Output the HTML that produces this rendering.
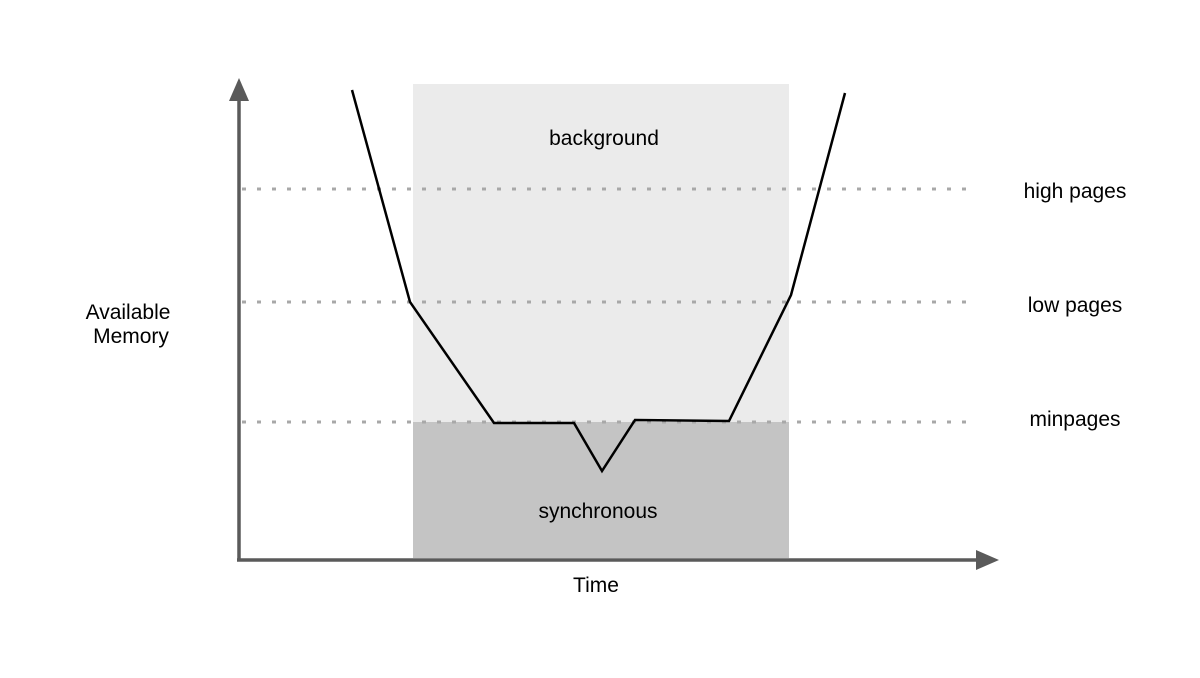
<!DOCTYPE html>
<html><head><style>body{margin:0;background:#fff}</style></head><body>
<svg width="1200" height="673" viewBox="0 0 1200 673" xmlns="http://www.w3.org/2000/svg" font-family="Liberation Sans, sans-serif" font-size="21" fill="#000">
<rect x="413" y="84" width="376" height="338" fill="#ebebeb"/>
<rect x="413" y="422" width="376" height="136" fill="#c4c4c4"/>
<g stroke="#a8a8a8" stroke-width="3" stroke-dasharray="4 11">
<line x1="242" y1="189" x2="972" y2="189"/>
<line x1="242" y1="302" x2="972" y2="302"/>
<line x1="242" y1="422" x2="972" y2="422"/>
</g>
<g stroke="#5a5a5a" stroke-width="3.5">
<line x1="239" y1="561" x2="239" y2="98"/>
<line x1="237" y1="560" x2="982" y2="560"/>
</g>
<polygon points="239,78 229,101 249,101" fill="#5a5a5a"/>
<polygon points="999,560 976,550 976,570" fill="#5a5a5a"/>
<polyline points="352,90 410,302 494,423 574,423 602,471 635,420 729,421 791,295 845,93" fill="none" stroke="#000" stroke-width="2.5" stroke-linejoin="miter"/>
<text x="604" y="145" text-anchor="middle">background</text>
<text x="598" y="518" text-anchor="middle">synchronous</text>
<text x="596" y="592" text-anchor="middle">Time</text>
<text x="1075" y="198" text-anchor="middle">high pages</text>
<text x="1075" y="312" text-anchor="middle">low pages</text>
<text x="1075" y="426" text-anchor="middle">minpages</text>
<text x="128" y="319" text-anchor="middle">Available</text>
<text x="131" y="343" text-anchor="middle">Memory</text>
</svg>
</body></html>
